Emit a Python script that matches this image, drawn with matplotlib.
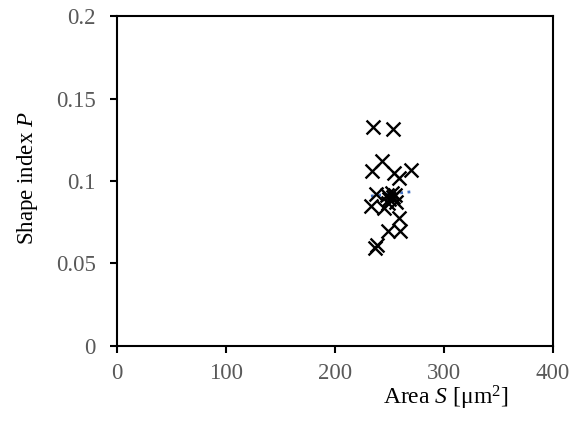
import numpy as np
import matplotlib
matplotlib.use('Agg')
import matplotlib.pyplot as plt

# Datos
area = [235, 253, 243, 234, 254, 259, 270, 238, 248, 253, 256, 233, 245, 249,
        259, 249, 260, 237, 239, 252, 255, 250]
indice = [0.133, 0.1315, 0.112, 0.106, 0.105, 0.102, 0.107, 0.092, 0.0915, 0.0905,
          0.0875, 0.085, 0.0835, 0.0865, 0.0775, 0.0695, 0.0695, 0.0595, 0.0615,
          0.093, 0.0915, 0.089]

plt.rcParams['font.family'] = ['Liberation Serif', 'DejaVu Serif']
plt.rcParams['mathtext.fontset'] = 'custom'
plt.rcParams['mathtext.rm'] = 'Liberation Serif'
plt.rcParams['mathtext.it'] = 'Liberation Serif:italic'

fig = plt.figure(figsize=(5.81, 4.26), dpi=100)
ax = fig.add_axes([0.201, 0.188, 0.751, 0.774])

ax.scatter(area, indice, marker='x', s=100, color='black', linewidths=1.7, zorder=3)

# Línea de tendencia
coef = np.polyfit(area, indice, 1)
xs = np.array([min(area), max(area)])
ax.plot(xs, np.polyval(coef, xs), linestyle=':', color='#4472C4', linewidth=2, zorder=2)

ax.set_xlim(0, 400)
ax.set_ylim(0, 0.2)
ax.set_xticks([0, 100, 200, 300, 400])
ax.set_yticks([0, 0.05, 0.1, 0.15, 0.2])
ax.set_yticklabels(['0', '0.05', '0.1', '0.15', '0.2'])
ax.tick_params(direction='out', length=5, width=1.5, labelsize=16.5,
               labelcolor='#595959')
ax.tick_params(axis='x', pad=7)
ax.tick_params(axis='y', pad=10)
for s in ax.spines.values():
    s.set_linewidth(1.5)

ax.set_ylabel('Shape index $\\mathit{P}$', fontsize=16.5)
ax.yaxis.set_label_coords(-0.175, 0.51)
ax.set_xlabel('Area $\\mathit{S}$ [μm$^2$]', fontsize=17)
ax.xaxis.set_label_coords(0.755, -0.115)

fig.savefig('out.png', dpi=100)
